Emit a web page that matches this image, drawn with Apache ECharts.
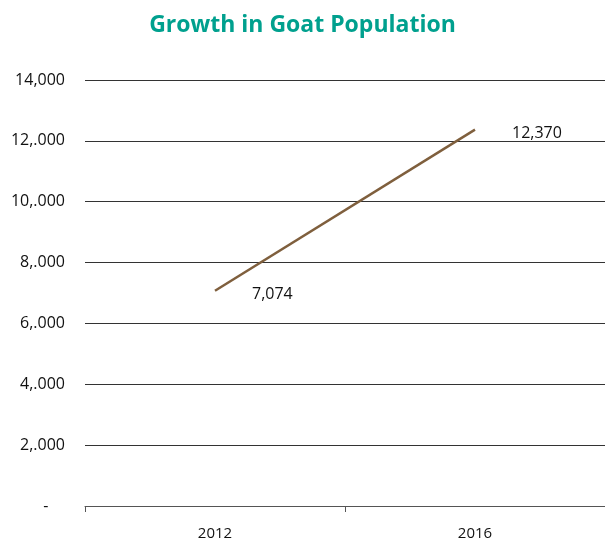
<!DOCTYPE html>
<html><head><meta charset="utf-8">
<script src="https://cdn.jsdelivr.net/npm/echarts@6/dist/echarts.min.js"></script>
<style>html,body{margin:0;padding:0;background:#fff}#c{width:605px;height:542px}</style>
</head><body><div id="c"></div>
<script>
var categories = ['2012', '2016'];
var goats = [7074, 12370];
var dataLabels = ['7,074', '12,370'];
var yTickLabels = ['-', '2,.000', '4,.000', '6,.000', '8,.000', '10,.000', '12,.000', '14,000'];

var chart = echarts.init(document.getElementById('c'), null, {renderer: 'canvas'});
chart.setOption({
  animation: false,
  backgroundColor: '#fff',
  title: {
    text: 'Growth in Goat Population',
    left: 'center', top: 9,
    textStyle: {color: '#00a08e', fontSize: 23, fontWeight: 'bold', fontFamily: 'Open Sans'}
  },
  grid: {left: 85, right: 0, top: 80, bottom: 36},
  xAxis: {
    type: 'category', data: categories, boundaryGap: true,
    axisLine: {lineStyle: {color: '#555', width: 1}},
    axisTick: {show: true, inside: false, length: 6, lineStyle: {color: '#555'}},
    axisLabel: {color: '#111', fontSize: 15, fontFamily: 'Open Sans', margin: 20}
  },
  yAxis: {
    type: 'value', min: 0, max: 14000, interval: 2000,
    axisLine: {show: false}, axisTick: {show: false},
    splitLine: {lineStyle: {color: '#333', width: 1}},
    axisLabel: {
      color: '#111', fontSize: 16, fontFamily: 'Open Sans', margin: 20,
      formatter: function (v) {
        var i = Math.round(v / 2000);
        return i === 0 ? '-    ' : yTickLabels[i];
      }
    }
  },
  series: [{
    type: 'line', data: goats, symbol: 'circle', symbolSize: 2, showSymbol: true,
    itemStyle: {color: 'rgba(0,0,0,0)', borderWidth: 0},
    lineStyle: {color: '#7f5f3d', width: 2.5},
    label: {
      show: true, position: 'right', distance: 0, offset: [36, 4],
      color: '#111', fontSize: 16, fontFamily: 'Open Sans',
      formatter: function (p) { return dataLabels[p.dataIndex]; }
    }
  }]
});
</script></body></html>
